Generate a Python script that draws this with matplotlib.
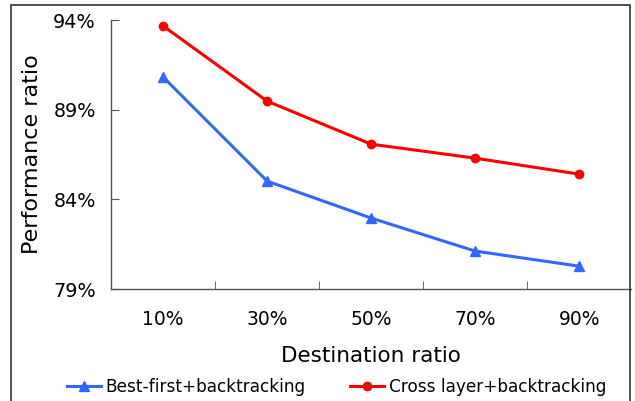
import matplotlib
matplotlib.use("Agg")
import matplotlib.pyplot as plt
from matplotlib.patches import Rectangle

categories = ["10%", "30%", "50%", "70%", "90%"]
best_first = [90.82, 85.02, 82.96, 81.12, 80.28]
cross_layer = [93.67, 89.48, 87.08, 86.30, 85.41]
y_ticks = [79, 84, 89, 94]

plt.rcParams["font.family"] = "DejaVu Sans"

fig = plt.figure(figsize=(6.35, 4.01), dpi=100)
ax = fig.add_axes([0.175, 0.279, 0.819, 0.671])

x = list(range(len(categories)))
ax.plot(x, best_first, color="#3366FF", lw=2.2, marker="^", ms=7,
        label="Best-first+backtracking")
ax.plot(x, cross_layer, color="#FF0000", lw=2.2, marker="o", ms=6,
        label="Cross layer+backtracking")

ax.set_xlim(-0.5, len(categories) - 0.5)
ax.set_ylim(79, 94)
ax.set_yticks(y_ticks)
ax.set_yticklabels([f"{v}%" for v in y_ticks], fontsize=13.8)
ax.set_xticks(x)
ax.set_xticklabels(categories, fontsize=13.5)
ax.tick_params(axis="x", length=0, pad=15)
ax.tick_params(axis="y", direction="in", length=6, pad=11, color="#555555")
# tick marks between categories
ax.set_xticks([i + 0.5 for i in range(len(categories) - 1)], minor=True)
ax.tick_params(axis="x", which="minor", direction="in", length=6, color="#555555")

for s in ["top", "right"]:
    ax.spines[s].set_visible(False)
for s in ["left", "bottom"]:
    ax.spines[s].set_color("#555555")
    ax.spines[s].set_linewidth(1.0)

ax.set_ylabel("Performance ratio", fontsize=16, labelpad=8)
ax.set_xlabel("Destination ratio", fontsize=15.5, labelpad=12)

fig.legend(loc="lower center", bbox_to_anchor=(0.53, -0.026), ncol=2,
           frameon=False, fontsize=12.2, handlelength=2.0, handletextpad=0.3,
           columnspacing=2.6)

fig.patches.append(Rectangle((11 / 635, -0.05), 619 / 635, 1 - 5 / 401 + 0.05,
                             transform=fig.transFigure, fill=False,
                             edgecolor="#333333", lw=1.2))

fig.savefig("out.png", dpi=100)
